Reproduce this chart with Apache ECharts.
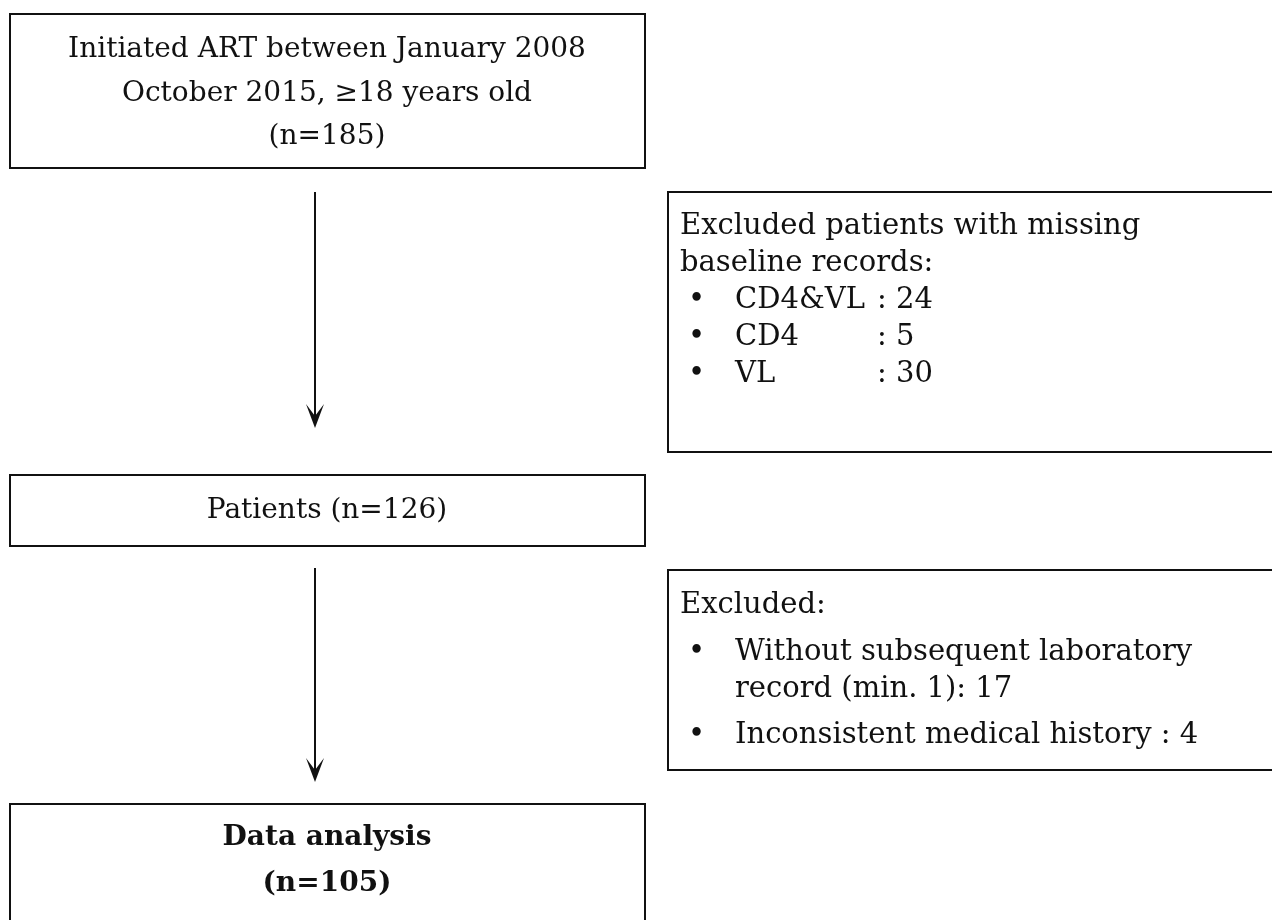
<!DOCTYPE html>
<html>
<head>
<meta charset="utf-8">
<script src="https://cdn.jsdelivr.net/npm/echarts@6/dist/echarts.min.js"></script>
<style>
html, body { margin: 0; padding: 0; background: #fff; }
#flow { width: 1272px; height: 920px; }
</style>
</head>
<body>
<div id="flow"></div>
<script>
// counts shown in the flow
var stepLabels = ['Patients', 'Data analysis'];
var stepCounts = [185, 126, 105];
var missingLabels = ['CD4&VL', 'CD4', 'VL'];
var missingCounts = [24, 5, 30];
var excludedLabels = ['Without subsequent laboratory', 'Inconsistent medical history'];
var excludedCounts = [17, 4];

var dom = document.getElementById('flow');
var myChart = echarts.init(dom);

var font = '"DejaVu Serif", serif';
var ink = '#111';

function box(x, y, w, h) {
    return {
        type: 'rect',
        shape: { x: x, y: y, width: w, height: h },
        style: { fill: '#fff', stroke: ink, lineWidth: 2 }
    };
}
function txt(s, x, y, align, bold, size) {
    return {
        type: 'text',
        x: x, y: y,
        style: {
            text: s, fill: ink, font: (bold ? 'bold ' : '') + (size || 28) + 'px ' + font,
            align: align || 'left', verticalAlign: 'middle'
        }
    };
}
// right-hand boxes use a slightly larger size
function rtxt(s, x, y) { return txt(s, x, y, 'left', false, 29); }
function arrow(x, y1, y2) {
    return [
        { type: 'line', shape: { x1: x, y1: y1, x2: x, y2: y2 - 4 }, style: { stroke: ink, lineWidth: 2 } },
        { type: 'polygon', shape: { points: [[x - 9, y2 - 24], [x, y2 - 12], [x + 9, y2 - 24], [x, y2]] },
          style: { fill: ink } }
    ];
}

var els = [];
var cx = 327;
els.push(box(10, 14, 635, 154));
els.push(txt('Initiated ART between January 2008', cx, 50, 'center'));
els.push(txt('October 2015, \u226518 years old', cx, 94, 'center'));
els.push(txt('(n=' + stepCounts[0] + ')', cx, 137, 'center'));

els = els.concat(arrow(315, 192, 428));

els.push(box(668, 192, 610, 260));
els.push(rtxt('Excluded patients with missing', 680, 226));
els.push(rtxt('baseline records:', 680, 263));
missingLabels.forEach(function (lab, i) {
    var y = 300 + i * 37;
    els.push(rtxt('\u2022', 688, y));
    els.push(rtxt(lab, 735, y));
    els.push(rtxt(': ' + missingCounts[i], 877, y));
});

els.push(box(10, 475, 635, 71));
els.push(txt(stepLabels[0] + ' (n=' + stepCounts[1] + ')', cx, 511, 'center'));

els = els.concat(arrow(315, 568, 782));

els.push(box(668, 570, 610, 200));
els.push(rtxt('Excluded:', 680, 605));
els.push(rtxt('\u2022', 688, 652));
els.push(rtxt(excludedLabels[0], 735, 652));
els.push(rtxt('record (min. 1): ' + excludedCounts[0], 735, 689));
els.push(rtxt('\u2022', 688, 735));
els.push(rtxt(excludedLabels[1] + ' : ' + excludedCounts[1], 735, 735));

els.push(box(10, 804, 635, 140));
els.push(txt(stepLabels[1], cx, 838, 'center', true));
els.push(txt('(n=' + stepCounts[2] + ')', cx, 884, 'center', true));

option = {
    backgroundColor: '#fff',
    animation: false,
    graphic: { elements: els }
};
if (option && typeof option === "object") {
    myChart.setOption(option, true);
}
</script>
</body>
</html>
